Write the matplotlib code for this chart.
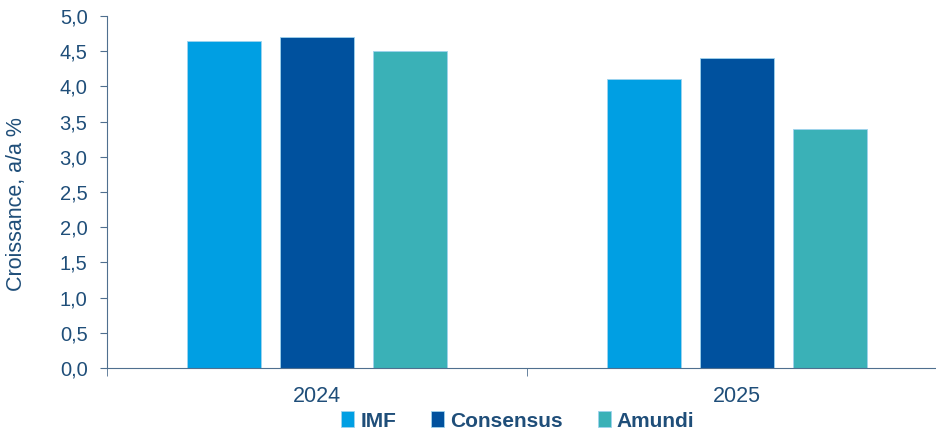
import matplotlib.pyplot as plt
import numpy as np
from matplotlib.ticker import FuncFormatter

plt.rcParams['font.family'] = ['Liberation Sans', 'DejaVu Sans']

years = ['2024', '2025']
imf = [4.65, 4.1]
consensus = [4.7, 4.4]
amundi = [4.5, 3.4]
series_names = ['IMF', 'Consensus', 'Amundi']
colors = ['#009FE3', '#00519E', '#3AB1B7']

text_col = '#1F4E79'
axis_col = '#4F6F8F'

fig = plt.figure(figsize=(9.36, 4.34), dpi=100)
ax = fig.add_axes([107 / 936, 1 - 368 / 434, 840 / 936, 352 / 434])

x = np.arange(len(years))
step = 0.221
width = 0.176
for i, (vals, name, c) in enumerate(zip([imf, consensus, amundi], series_names, colors)):
    ax.bar(x + (i - 1) * step, vals, width, color=c, label=name,
           edgecolor='#9FD3EE', linewidth=0.6)

ax.set_xlim(-0.5, 1.5)
ax.set_ylim(0, 5)
ax.set_yticks(np.arange(0, 5.01, 0.5))
ax.yaxis.set_major_formatter(FuncFormatter(lambda v, p: f'{v:.1f}'.replace('.', ',')))
ax.set_xticks(x)
ax.set_xticklabels(years)
ax.set_xticks([-0.5, 0.5, 1.5], minor=True)
ax.tick_params(axis='x', which='major', length=0, pad=13, labelsize=15.5, labelcolor=text_col)
ax.tick_params(axis='x', which='minor', length=6, color=axis_col, direction='out')
ax.tick_params(axis='y', length=5, color=axis_col, labelsize=14.5, labelcolor=text_col, pad=9)

for s in ['top', 'right']:
    ax.spines[s].set_visible(False)
ax.spines['left'].set_color(axis_col)
ax.spines['bottom'].set_color(axis_col)

ax.set_ylabel('Croissance, a/a %', fontsize=15.5, color=text_col)
ax.yaxis.set_label_coords(-0.095, 0.466)

leg = fig.legend(loc='center', bbox_to_anchor=(518 / 936, 1 - 421 / 434),
                 ncol=3, frameon=False, handlelength=0.6, handleheight=0.8,
                 handletextpad=0.3, columnspacing=1.7,
                 prop={'weight': 'bold', 'size': 15})
for t in leg.get_texts():
    t.set_color(text_col)

fig.savefig('out.png', dpi=100)
